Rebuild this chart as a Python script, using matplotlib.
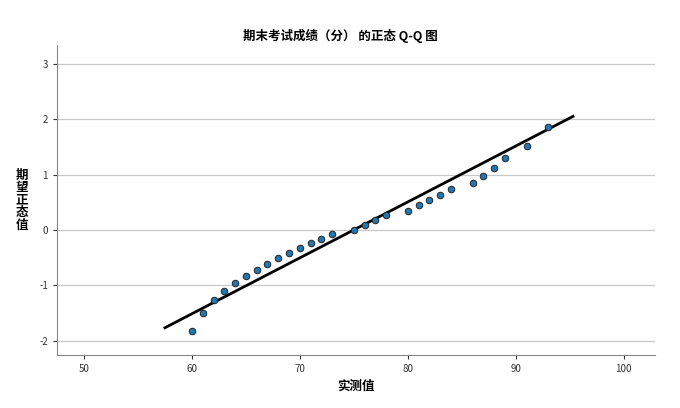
import matplotlib
matplotlib.use("Agg")
import matplotlib.pyplot as plt

plt.rcParams['font.family'] = ['Noto Sans CJK SC', 'DejaVu Sans']
plt.rcParams['axes.unicode_minus'] = False

obs_x = [60,61,62,63,64,65,66,67,68,69,70,71,72,73,75,76,77,78,80,81,82,83,84,86,87,88,89,91,93]
exp_y = [-1.82,-1.50,-1.26,-1.10,-0.96,-0.83,-0.72,-0.61,-0.51,-0.42,-0.33,-0.24,-0.16,-0.07,
         0.00,0.09,0.18,0.27,0.34,0.45,0.54,0.63,0.74,0.85,0.97,1.12,1.30,1.52,1.86]
line_x = [57.5, 95.3]
mean, sd = 75.0, 9.9
line_y = [(v - mean) / sd for v in line_x]
xticks = [50, 60, 70, 80, 90, 100]
yticks = [-2, -1, 0, 1, 2, 3]

fig = plt.figure(figsize=(6.8, 4.08), dpi=100)
ax = fig.add_axes([57/680, 1-355/408, 598/680, 310/408])
ax.set_xlim(47.5, 102.9)
ax.set_ylim(-2.26, 3.34)
ax.set_xticks(xticks)
ax.set_yticks(yticks)
ax.grid(axis='y', color='#c8c8c8', lw=0.9)
ax.set_axisbelow(True)
for s in ['top', 'right']:
    ax.spines[s].set_visible(False)
for s in ['left', 'bottom']:
    ax.spines[s].set_color('#888888')
ax.tick_params(labelsize=7, colors='#333333', length=3)
ax.plot(line_x, line_y, color='black', lw=2, zorder=2)
ax.scatter(obs_x, exp_y, s=22, color='#1f77b4', edgecolor='#222222', linewidth=0.7, zorder=3)
ax.set_xlabel('实测值', fontsize=9, fontweight='bold')
fig.text(22/680, 1-200/408, '期\n望\n正\n态\n值', fontsize=9, fontweight='bold',
         ha='center', va='center', linespacing=0.95)
fig.text(0.5, 1-36/408, '期末考试成绩（分） 的正态 Q-Q 图', fontsize=9, fontweight='bold',
         ha='center', va='center')
fig.savefig('out.png', dpi=100)
